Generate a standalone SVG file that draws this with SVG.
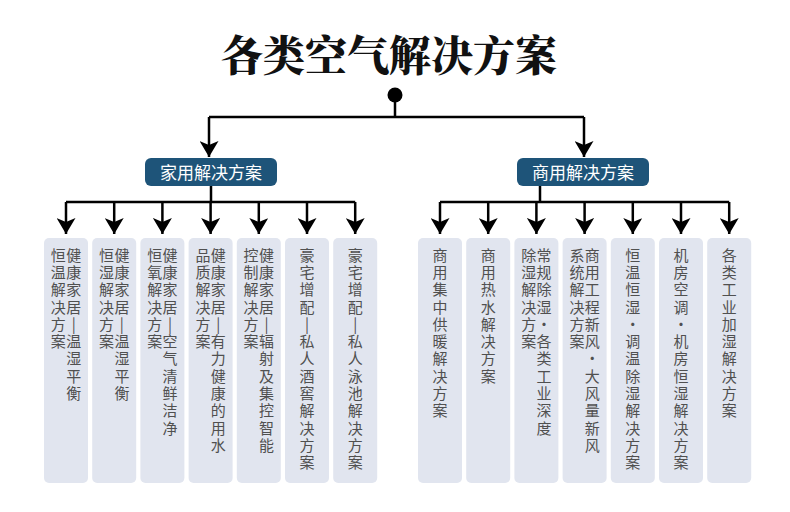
<svg xmlns="http://www.w3.org/2000/svg" width="790" height="512" viewBox="0 0 790 512">
<style>
.title{font-family:"Noto Serif CJK SC","Noto Sans CJK SC",serif;font-size:42px;font-weight:900;fill:#111;text-anchor:middle}
.cat rect{fill:#1e5479}
.cat text{font-family:"Noto Sans CJK SC",sans-serif;font-size:17px;fill:#fff;text-anchor:middle}
.leaf rect{fill:#e1e5ef}
.leaf text{font-family:"Noto Sans CJK SC",sans-serif;font-size:15px;fill:#505050;text-anchor:start;writing-mode:vertical-rl;text-orientation:upright;letter-spacing:2.3px}
.wire{fill:none;stroke:#000;stroke-width:2.5}
</style>
<defs>
<marker id="arr" viewBox="0 0 16 19" refX="16" refY="9.5" markerWidth="16" markerHeight="19" markerUnits="userSpaceOnUse" orient="auto">
<path d="M0,0 L16,9.5 L0,19 L4,9.5 Z" fill="#000"/>
</marker>
</defs>
<rect width="790" height="512" fill="#fff"/>
<text class="title" x="389" y="71">各类空气解决方案</text>

<g id="connectors">
<circle cx="395" cy="95" r="7.5" fill="#000"/>
<path class="wire" d="M395,95 V117 M209,117 H584"/>
<path class="wire" d="M209,117 V157" marker-end="url(#arr)"/>
<path class="wire" d="M584,117 V157" marker-end="url(#arr)"/>
<path class="wire" d="M211,186 V202 M66,202 H355.2 M540,186 V202 M440,202 H729.2"/>
<path class="wire" d="M66,202 V234" marker-end="url(#arr)"/>
<path class="wire" d="M114.2,202 V234" marker-end="url(#arr)"/>
<path class="wire" d="M162.4,202 V234" marker-end="url(#arr)"/>
<path class="wire" d="M210.6,202 V234" marker-end="url(#arr)"/>
<path class="wire" d="M258.8,202 V234" marker-end="url(#arr)"/>
<path class="wire" d="M307,202 V234" marker-end="url(#arr)"/>
<path class="wire" d="M355.2,202 V234" marker-end="url(#arr)"/>
<path class="wire" d="M440,202 V234" marker-end="url(#arr)"/>
<path class="wire" d="M488.2,202 V234" marker-end="url(#arr)"/>
<path class="wire" d="M536.4,202 V234" marker-end="url(#arr)"/>
<path class="wire" d="M584.6,202 V234" marker-end="url(#arr)"/>
<path class="wire" d="M632.8,202 V234" marker-end="url(#arr)"/>
<path class="wire" d="M681,202 V234" marker-end="url(#arr)"/>
<path class="wire" d="M729.2,202 V234" marker-end="url(#arr)"/>
</g>

<g id="cat-home" class="cat">
<rect x="145" y="158" width="132" height="28" rx="6"/>
<text x="211" y="178.5">家用解决方案</text>
</g>
<g id="cat-biz" class="cat">
<rect x="517" y="158" width="132" height="28" rx="6"/>
<text x="583" y="178.5">商用解决方案</text>
</g>

<g id="home1" class="leaf">
<rect x="44" y="238" width="44" height="245" rx="5"/>
<text x="73.7" y="247.5">健康家居|温湿平衡</text>
<text x="58.3" y="247.5">恒温解决方案</text>
</g>
<g id="home2" class="leaf">
<rect x="92.2" y="238" width="44" height="245" rx="5"/>
<text x="121.9" y="247.5">健康家居|温湿平衡</text>
<text x="106.5" y="247.5">恒湿解决方案</text>
</g>
<g id="home3" class="leaf">
<rect x="140.4" y="238" width="44" height="245" rx="5"/>
<text x="170.1" y="247.5">健康家居|空气清鲜洁净</text>
<text x="154.7" y="247.5">恒氧解决方案</text>
</g>
<g id="home4" class="leaf">
<rect x="188.6" y="238" width="44" height="245" rx="5"/>
<text x="218.3" y="247.5">健康家居|有力健康的用水</text>
<text x="202.9" y="247.5">品质解决方案</text>
</g>
<g id="home5" class="leaf">
<rect x="236.8" y="238" width="44" height="245" rx="5"/>
<text x="266.5" y="247.5">健康家居|辐射及集控智能</text>
<text x="251.1" y="247.5">控制解决方案</text>
</g>
<g id="home6" class="leaf">
<rect x="285" y="238" width="44" height="245" rx="5"/>
<text x="307" y="247.5">豪宅增配|私人酒窖解决方案</text>
</g>
<g id="home7" class="leaf">
<rect x="333.2" y="238" width="44" height="245" rx="5"/>
<text x="355.2" y="247.5">豪宅增配|私人泳池解决方案</text>
</g>

<g id="biz1" class="leaf">
<rect x="418" y="238" width="44" height="245" rx="5"/>
<text x="440" y="247.5">商用集中供暖解决方案</text>
</g>
<g id="biz2" class="leaf">
<rect x="466.2" y="238" width="44" height="245" rx="5"/>
<text x="488.2" y="247.5">商用热水解决方案</text>
</g>
<g id="biz3" class="leaf">
<rect x="514.4" y="238" width="44" height="245" rx="5"/>
<text x="544.1" y="247.5">常规除湿·各类工业深度</text>
<text x="528.7" y="247.5">除湿解决方案</text>
</g>
<g id="biz4" class="leaf">
<rect x="562.6" y="238" width="44" height="245" rx="5"/>
<text x="592.3" y="247.5">商用工程新风·大风量新风</text>
<text x="576.9" y="247.5">系统解决方案</text>
</g>
<g id="biz5" class="leaf">
<rect x="610.8" y="238" width="44" height="245" rx="5"/>
<text x="632.8" y="247.5">恒温恒湿·调温除湿解决方案</text>
</g>
<g id="biz6" class="leaf">
<rect x="659" y="238" width="44" height="245" rx="5"/>
<text x="681" y="247.5">机房空调·机房恒湿解决方案</text>
</g>
<g id="biz7" class="leaf">
<rect x="707.2" y="238" width="44" height="245" rx="5"/>
<text x="729.2" y="247.5">各类工业加湿解决方案</text>
</g>
</svg>
